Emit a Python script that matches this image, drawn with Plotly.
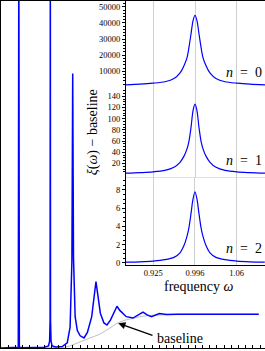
import plotly.graph_objects as go

# ---------------- data ----------------
# main panel: frequency omega vs xi(omega)
main_w = [0.0, 0.20, 0.240, 0.2477, 0.255, 0.30, 0.60, 0.660, 0.675, 0.682, 0.685, 0.688, 0.695,
          0.710, 0.76, 0.85, 0.92, 0.96, 0.985, 0.996, 1.007, 1.03, 1.06, 1.10, 1.153, 1.20, 1.26,
          1.30, 1.319, 1.34, 1.38, 1.43, 1.472, 1.52, 1.58, 1.611, 1.65, 1.74, 1.833, 1.90, 1.972,
          2.03, 2.09, 2.20, 2.30, 2.45, 2.60, 3.58]
main_xi = [0.0, 0.0, 0.02, 12.0, 0.02, 0.01, 0.02, 0.06, 0.2, 0.8, 12.0, 0.8, 0.2,
           0.06, 0.03, 0.04, 0.15, 0.6, 2.5, 7.89, 2.6, 0.9, 0.5, 0.35, 0.29, 0.45, 0.9,
           1.6, 1.91, 1.6, 1.0, 0.72, 0.66, 0.8, 1.1, 1.20, 1.08, 0.9, 0.86, 0.95, 1.03,
           0.95, 0.90, 0.99, 0.96, 0.97, 0.97, 0.97]

base_w = [0.0, 0.68, 0.861, 0.958, 1.097, 1.236, 1.375, 1.486, 1.611, 1.722, 1.833, 1.958,
          2.097, 2.28, 2.49, 3.58]
base_xi = [0.0, 0.0, 0.01, 0.06, 0.17, 0.30, 0.40, 0.54, 0.71, 0.80, 0.86, 0.91,
           0.94, 0.96, 0.97, 0.97]

# inset n = 0
w_n0 = [0.2476657, 0.2476771, 0.2476877, 0.2476975, 0.2477049, 0.2477098, 0.2477130, 0.2477155,
        0.2477171, 0.2477187, 0.2477204, 0.2477220, 0.2477236, 0.2477253, 0.2477269, 0.2477285,
        0.2477310, 0.2477342, 0.2477391, 0.2477465, 0.2477563, 0.2477669, 0.2477791]
xi_n0 = [1600, 2000, 2600, 3500, 5500, 9000, 13500, 18500, 25000, 33000, 41500, 44800,
         41500, 33000, 25000, 18500, 13500, 9000, 5500, 3500, 2600, 2000, 1600]

# inset n = 1
w_n1 = [0.67673, 0.67841, 0.67996, 0.68140, 0.68248, 0.68320, 0.68368, 0.68404, 0.68428,
        0.68452, 0.68476, 0.68500, 0.68524, 0.68548, 0.68572, 0.68596, 0.68632, 0.68680,
        0.68752, 0.68860, 0.69004, 0.69160, 0.69339]
xi_n1 = [2.5, 3.5, 4.8, 7.5, 13, 22, 33, 46, 60, 84, 114, 126,
         114, 84, 60, 46, 33, 22, 13, 7.5, 4.8, 3.5, 2.5]

# inset n = 2
w_n2 = [0.88348, 0.90631, 0.92751, 0.94708, 0.96176, 0.97154, 0.97806, 0.98295, 0.98622,
        0.98948, 0.99274, 0.99600, 0.99926, 1.00252, 1.00578, 1.00905, 1.01394, 1.02046,
        1.03024, 1.04492, 1.06449, 1.08569, 1.10985]
xi_n2 = [0.08, 0.12, 0.2, 0.35, 0.6, 1.1, 1.9, 2.9, 3.9, 5.4, 7.0, 7.8,
         7.0, 5.4, 3.9, 2.9, 1.9, 1.1, 0.6, 0.35, 0.2, 0.12, 0.08]

# tick labels
n0_tickvals = [0.247688, 0.247722, 0.247756]
n0_ticktext = ["0.24769", "0.24772", "0.24776"]
n1_tickvals = [0.680, 0.685, 0.690]
n1_ticktext = ["0.680", "0.685", "0.690"]
n2_tickvals = [0.928, 0.996, 1.064]
n2_ticktext = ["0.925", "0.996", "1.06"]
n0_yticks = [10000, 20000, 30000, 40000, 50000]
n1_yticks = [20, 40, 60, 80, 100, 120, 140]
n2_yticks = [0, 2, 4, 6, 8]

# ---------------- layout helpers ----------------
W, H = 265, 351
ML, MR, MT, MB = 1, 0, 0, 2
PW, PH = W - ML - MR, H - MT - MB


def xp(px):
    return (px - ML) / PW


def yp(py):
    return (MT + PH - py) / PH


SERIF = "Liberation Serif"
BLUE = "#0000ff"

fig = go.Figure()
fig.add_trace(go.Scatter(x=base_w, y=base_xi, mode="lines", line=dict(color="#c0c0c0", width=1),
                         xaxis="x", yaxis="y", hoverinfo="skip"))
fig.add_trace(go.Scatter(x=main_w, y=main_xi, mode="lines", line=dict(color=BLUE, width=1.5),
                         xaxis="x", yaxis="y"))
for i, (wx, yy) in enumerate([(w_n0, xi_n0), (w_n1, xi_n1), (w_n2, xi_n2)]):
    fig.add_trace(go.Scatter(x=wx, y=yy, mode="lines",
                             line=dict(color=BLUE, width=1.2, shape="spline", smoothing=0.8),
                             xaxis="x%d" % (i + 2), yaxis="y%d" % (i + 2)))

tickfont = dict(family=SERIF, size=8.5, color="black")

x_in = [xp(126), 1.0]
y_n0 = [yp(88.3), yp(0)]
y_n1 = [yp(177.3), yp(88.3)]
y_n2 = [yp(265.5), yp(177.3)]


def inset_x(dom, rng, tv, tt, anchor, linecolor, linewidth):
    return dict(domain=dom, range=rng, anchor=anchor, tickmode="array", tickvals=tv, ticktext=tt,
                showgrid=True, gridcolor="#cfcfcf", gridwidth=1, showline=True,
                linecolor=linecolor, linewidth=linewidth, ticks="", zeroline=False,
                tickfont=tickfont, fixedrange=True)


def inset_y(dom, rng, tv, minor_tv, anchor):
    return dict(domain=dom, range=rng, anchor=anchor, tickmode="array", tickvals=tv,
                ticktext=[str(v) for v in tv],
                showgrid=False, zeroline=False, showline=True, linecolor="black", linewidth=1,
                ticks="outside", ticklen=3, tickcolor="black", tickwidth=1, tickfont=tickfont,
                minor=dict(tickmode="array", tickvals=minor_tv, ticks="outside", ticklen=2,
                           tickcolor="black", showgrid=False))


fig.update_layout(
    width=W, height=H, margin=dict(l=ML, r=MR, t=MT, b=MB),
    paper_bgcolor="white", plot_bgcolor="white", showlegend=False,
    xaxis=dict(domain=[0, 1], range=[0, 3.667], showline=True, linecolor="black", linewidth=1,
               mirror=True, ticks="inside", ticklen=3, tickcolor="black", dtick=0.1, tick0=0,
               showticklabels=False, showgrid=False, zeroline=False),
    yaxis=dict(domain=[0, 1], range=[0, 9.97], showline=True, linecolor="black", linewidth=1,
               showticklabels=False, showgrid=False, zeroline=False, ticks=""),
    xaxis2=inset_x(x_in, [0.2476657, 0.2477791], n0_tickvals, n0_ticktext, "y2", "#999999", 2),
    yaxis2=inset_y(y_n0, [-864, 53642], n0_yticks, [v * 2000 for v in range(1, 27)], "x2"),
    xaxis3=inset_x(x_in, [0.67673, 0.69339], n1_tickvals, n1_ticktext, "y3", "#999999", 2),
    yaxis3=inset_y(y_n1, [-4.8, 153.3], n1_yticks, [v * 5 for v in range(1, 31)], "x3"),
    xaxis4=inset_x(x_in, [0.88348, 1.11020], n2_tickvals, n2_ticktext, "y4", "black", 1),
    yaxis4=inset_y(y_n2, [-0.23, 9.39], n2_yticks, [v * 0.5 for v in range(0, 19)], "x4"),
)

big = dict(family=SERIF, size=14, color="black")
ann = [
    dict(text="<i>ξ</i>(<i>ω</i>) − baseline", x=xp(93), y=yp(132), textangle=-90),
    dict(text="frequency <i>ω</i>", x=xp(198), y=yp(287)),
    dict(text="<i>n</i>\u2002=\u20020", x=xp(264), y=yp(71.7), xanchor="right"),
    dict(text="<i>n</i>\u2002=\u20021", x=xp(264), y=yp(160.7), xanchor="right"),
    dict(text="<i>n</i>\u2002=\u20022", x=xp(264), y=yp(249.3), xanchor="right"),
    dict(text="baseline", x=xp(180), y=yp(339)),
]
for a in ann:
    a.setdefault("xanchor", "center")
    fig.add_annotation(xref="paper", yref="paper", yanchor="middle", showarrow=False, font=big, **a)

fig.add_annotation(x=1.629, y=0.714, xref="x", yref="y", text="", showarrow=True,
                   ax=35.7, ay=12.7, arrowcolor="black", arrowwidth=1.3, arrowhead=2, arrowsize=1.1)

fig.write_html("out.html", config={"displayModeBar": False},
               post_script="document.body.style.margin='0px';document.body.style.overflow='hidden';")
